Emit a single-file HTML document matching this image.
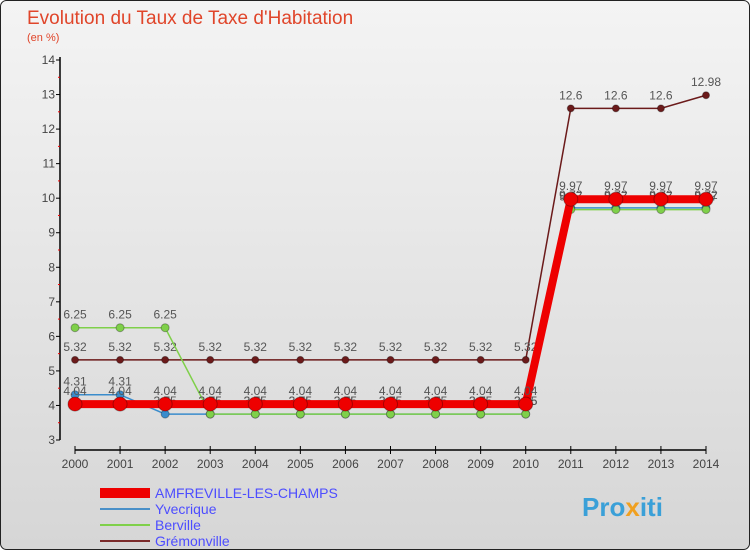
<!DOCTYPE html>
<html><head><meta charset="utf-8"><style>
body{margin:0;width:750px;height:550px;overflow:hidden;font-family:"Liberation Sans",sans-serif}
svg text{font-family:"Liberation Sans",sans-serif}
</style></head><body>
<svg id="c" width="750" height="550" xmlns="http://www.w3.org/2000/svg">
<defs><linearGradient id="bg" x1="0" y1="0" x2="0" y2="1"><stop offset="0" stop-color="#f4f4f4"/><stop offset="1" stop-color="#d6d6d6"/></linearGradient></defs>
<rect x="0.5" y="0.5" width="749" height="549" rx="6" fill="url(#bg)" stroke="#222"/>
<text x="27" y="24" font-size="19" fill="#e0452a">Evolution du Taux de Taxe d'Habitation</text>
<text x="27" y="41" font-size="11" fill="#e0452a">(en %)</text>
<g id="axes"></g><g id="series"></g>
<g>
<rect x="100" y="488" width="50" height="10" fill="#ee0000"/>
<text x="155" y="498" font-size="14" fill="#4d4dff">AMFREVILLE-LES-CHAMPS</text>
<line x1="100" y1="509" x2="150" y2="509" stroke="#4a90c8" stroke-width="2"/>
<text x="155" y="514" font-size="14" fill="#4d4dff">Yvecrique</text>
<line x1="100" y1="525" x2="150" y2="525" stroke="#7fd04a" stroke-width="2"/>
<text x="155" y="530" font-size="14" fill="#4d4dff">Berville</text>
<line x1="100" y1="541" x2="150" y2="541" stroke="#7a2a2a" stroke-width="2"/>
<text x="155" y="546" font-size="14" fill="#4d4dff">Grémonville</text>
</g>
<text x="582" y="516" font-size="26" font-weight="bold" fill="#3aa0d8">Pro<tspan fill="#f0a020">x</tspan>iti</text>
</svg>
<script>
const years=[2000,2001,2002,2003,2004,2005,2006,2007,2008,2009,2010,2011,2012,2013,2014];
const amfreville=[4.04,4.04,4.04,4.04,4.04,4.04,4.04,4.04,4.04,4.04,4.04,9.97,9.97,9.97,9.97];
const yvecrique=[4.31,4.31,3.75,3.75,3.75,3.75,3.75,3.75,3.75,3.75,3.75,9.72,9.72,9.72,9.72];
const berville=[6.25,6.25,6.25,3.75,3.75,3.75,3.75,3.75,3.75,3.75,3.75,9.67,9.67,9.67,9.67];
const gremonville=[5.32,5.32,5.32,5.32,5.32,5.32,5.32,5.32,5.32,5.32,5.32,12.6,12.6,12.6,12.98];
const yTicks=[3,4,5,6,7,8,9,10,11,12,13,14];
const NS="http://www.w3.org/2000/svg";
const X=i=>75+i*(706-75)/(years.length-1);
const Y=v=>440-(v-3)*(380/11);
function mk(t,a,p){const e=document.createElementNS(NS,t);for(const k in a)e.setAttribute(k,a[k]);p.appendChild(e);return e;}
const ax=document.getElementById('axes'),sr=document.getElementById('series');
let l=mk('line',{x1:60,y1:Y(14)-3,x2:60,y2:Y(3),stroke:'#000','stroke-width':1.5},ax);


l=mk('line',{x1:X(0),y1:450,x2:X(14),y2:450,stroke:'#000','stroke-width':1.5},ax);


yTicks.forEach(v=>{mk('line',{x1:56,y1:Y(v),x2:60,y2:Y(v),stroke:'#000'},ax);
 if(v<14)mk('line',{x1:58,y1:Y(v+0.5),x2:60,y2:Y(v+0.5),stroke:'#e00'},ax);
 const t=mk('text',{x:55,y:Y(v)+4,'font-size':12,fill:'#444','text-anchor':'end'},ax);t.textContent=v;
 
 });
years.forEach((y,i)=>{mk('line',{x1:X(i),y1:446,x2:X(i),y2:454,stroke:'#000'},ax);
 const t=mk('text',{x:X(i),y:468,'font-size':12,fill:'#444','text-anchor':'middle'},ax);t.textContent=y;
 
 });
function series(d,col,w,r,name){
 const g=mk('g',{},sr);
 
 
 mk('polyline',{points:d.map((v,i)=>X(i)+','+Y(v)).join(' '),fill:'none',stroke:col,'stroke-width':w},g);
 d.forEach((v,i)=>{const c=mk('circle',{cx:X(i),cy:Y(v),r:r,fill:col,stroke:'rgba(0,0,0,0.3)'},g);
  
  
  const t=mk('text',{x:X(i),y:Y(v)-9,'font-size':12,fill:'#555','text-anchor':'middle'},g);t.textContent=String(v);
  
  });
}
series(gremonville,'#6b1a1a',1.5,3.5,'gremonville');
series(yvecrique,'#3a8ccc',1.5,4,'yvecrique');
series(berville,'#7fd04a',1.5,4,'berville');
series(amfreville,'#ee0000',8,7,'amfreville');
</script>
</body></html>
